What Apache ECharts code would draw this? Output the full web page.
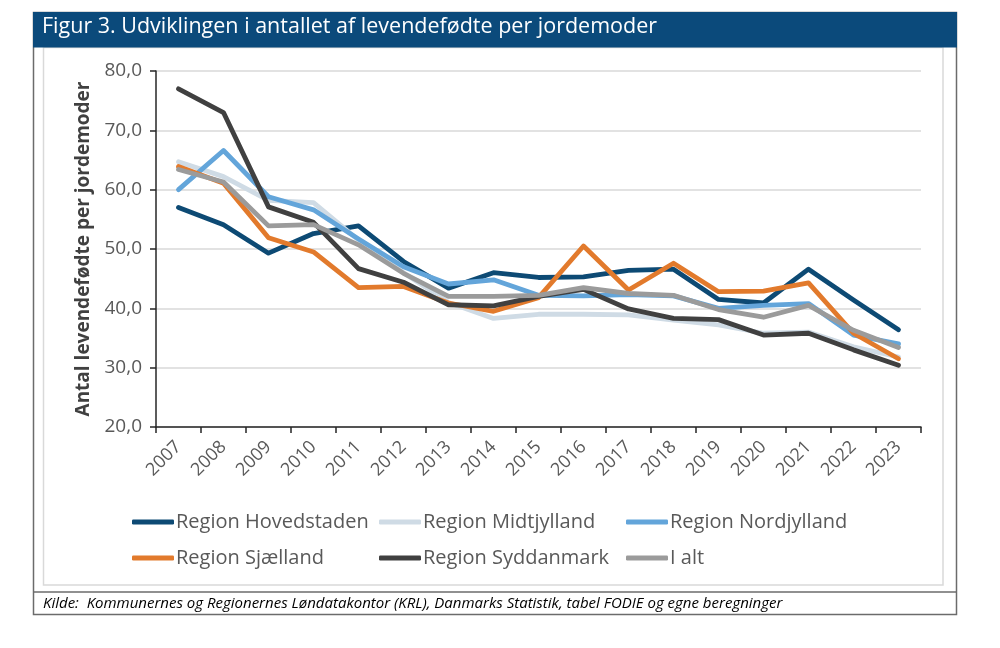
<!DOCTYPE html>
<html>
<head>
<meta charset="utf-8">
<script src="https://cdn.jsdelivr.net/npm/echarts@6/dist/echarts.min.js"></script>
<style>
html,body{margin:0;padding:0;background:#fff;}
#chart{width:1000px;height:648px;}
</style>
</head>
<body>
<div id="chart"></div>
<script>
const years = ['2007','2008','2009','2010','2011','2012','2013','2014','2015','2016','2017','2018','2019','2020','2021','2022','2023'];
const hovedstaden = [57.0, 54.1, 49.3, 52.6, 53.9, 47.9, 43.4, 46.0, 45.2, 45.3, 46.4, 46.6, 41.5, 40.9, 46.6, 41.4, 36.4];
const midtjylland = [64.7, 62.2, 58.2, 57.8, 51.5, 46.0, 41.0, 38.3, 39.0, 39.0, 38.9, 38.0, 37.2, 35.8, 36.0, 33.5, 31.8];
const nordjylland = [60.0, 66.6, 58.8, 56.6, 51.7, 47.0, 44.1, 44.8, 42.2, 42.1, 42.3, 42.1, 40.0, 40.5, 40.8, 35.5, 34.0];
const sjaelland   = [63.9, 61.1, 51.9, 49.5, 43.5, 43.7, 40.9, 39.5, 41.8, 50.5, 43.1, 47.6, 42.8, 42.9, 44.3, 35.8, 31.5];
const syddanmark  = [77.0, 73.0, 57.1, 54.5, 46.7, 44.4, 40.6, 40.4, 42.0, 43.2, 39.9, 38.3, 38.1, 35.5, 35.8, 33.0, 30.4];
const ialt        = [63.4, 61.3, 53.9, 54.1, 50.7, 45.9, 42.0, 42.0, 42.2, 43.5, 42.5, 42.2, 39.8, 38.5, 40.5, 36.3, 33.4];

const seriesNames = ['Region Hovedstaden','Region Midtjylland','Region Nordjylland','Region Sjælland','Region Syddanmark','I alt'];
const seriesData = [hovedstaden, midtjylland, nordjylland, sjaelland, syddanmark, ialt];
const colors = ['#0d4a74','#cfdbe5','#63a5da','#e27a2c','#404040','#9b9b9b'];

const titleText = 'Figur 3. Udviklingen i antallet af levendefødte per jordemoder';
const yAxisTitle = 'Antal levendefødte per jordemoder';
const sourceText = 'Kilde:  Kommunernes og Regionernes Løndatakontor (KRL), Danmarks Statistik, tabel FODIE og egne beregninger';

const font = 'Open Sans';
const chart = echarts.init(document.getElementById('chart'));

const legendCommon = {
  orient: 'vertical',
  top: 505,
  itemWidth: 42,
  itemHeight: 5,
  itemGap: 12,
  icon: 'roundRect',
  textStyle: {fontFamily: font, fontSize: 20, color: '#595959', lineHeight: 24, padding: [0,0,0,-3]}
};

chart.setOption({
  animation: false,
  color: colors,
  grid: {left: 156, right: 79, top: 71, bottom: 221, containLabel: false},
  legend: [
    Object.assign({left: 127, data: [seriesNames[0], seriesNames[3]]}, legendCommon),
    Object.assign({left: 374, data: [seriesNames[1], seriesNames[4]]}, legendCommon),
    Object.assign({left: 621, data: [seriesNames[2], seriesNames[5]]}, legendCommon)
  ],
  xAxis: {
    type: 'category',
    data: years,
    boundaryGap: true,
    axisLine: {lineStyle: {color: '#262626', width: 1.5}},
    axisTick: {show: true, length: 6, alignWithLabel: false, lineStyle: {color: '#262626', width: 1.5}},
    axisLabel: {rotate: 45, fontFamily: font, fontSize: 18, color: '#595959', margin: 17, interval: 0},
    splitLine: {show: false}
  },
  yAxis: {
    type: 'value',
    min: 20, max: 80, interval: 10,
    name: yAxisTitle,
    nameLocation: 'middle',
    nameGap: 63,
    nameTextStyle: {fontFamily: font, fontSize: 19, fontWeight: 'bold', color: '#404040'},
    axisLine: {show: true, lineStyle: {color: '#262626', width: 1.5}},
    axisTick: {show: true, length: 6, lineStyle: {color: '#262626', width: 1.5}},
    axisLabel: {fontFamily: font, fontSize: 19, color: '#595959', margin: 14,
      formatter: v => v.toFixed(1).replace('.', ',')},
    splitLine: {lineStyle: {color: '#d9d9d9', width: 1.5}}
  },
  series: seriesNames.map((n, i) => ({
    name: n,
    type: 'line',
    data: seriesData[i],
    symbol: 'none',
    lineStyle: {width: 4.8, color: colors[i], join: 'round', cap: 'round'},
    itemStyle: {color: colors[i]}
  })),
  graphic: [
    {type: 'rect', z: -1, shape: {x: 43.5, y: 47.5, width: 899.5, height: 537.5}, style: {fill: 'none', stroke: '#d9d9d9', lineWidth: 1.5}},
    {type: 'rect', shape: {x: 33.5, y: 12.5, width: 923, height: 602}, style: {fill: 'none', stroke: '#6b6b6b', lineWidth: 1.5}},
    {type: 'line', shape: {x1: 33.5, y1: 592, x2: 956.5, y2: 592}, style: {stroke: '#6b6b6b', lineWidth: 1.5}},
    {type: 'rect', shape: {x: 33, y: 12, width: 924, height: 35.5}, style: {fill: '#0b4a7b'}},
    {type: 'text', left: 42, top: 16, style: {text: titleText, fill: '#ffffff', font: '21.5px "Open Sans"'}},
    {type: 'text', left: 43, top: 596, style: {text: sourceText, fill: '#000000', font: 'italic 15px "Open Sans"'}}
  ]
});
</script>
</body>
</html>
